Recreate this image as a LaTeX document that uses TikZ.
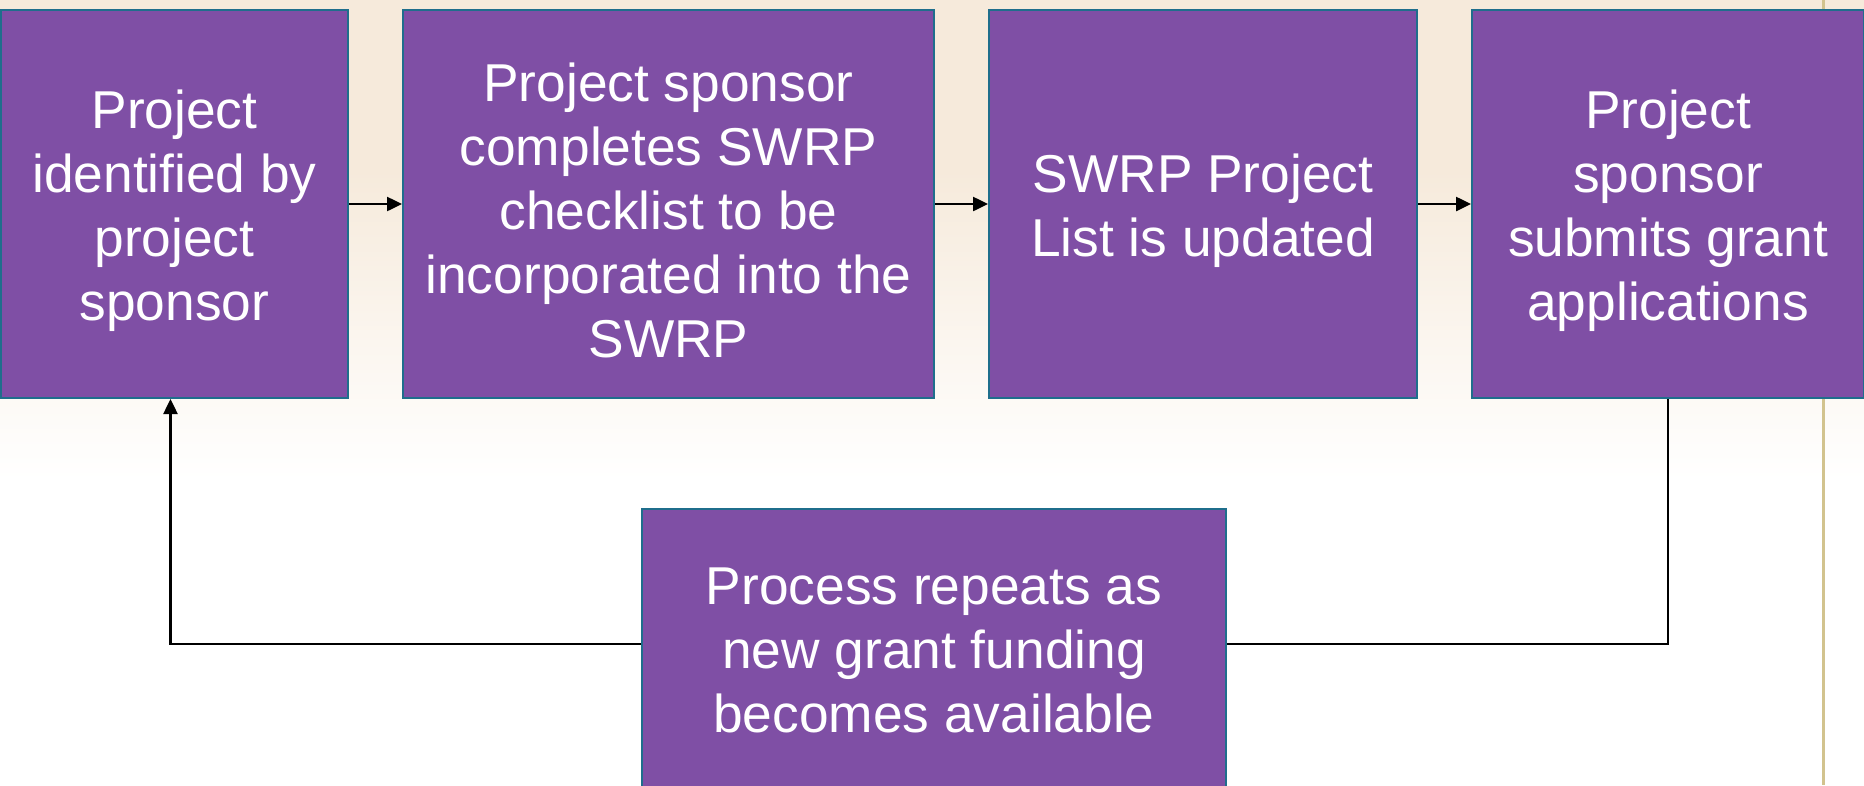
\documentclass[tikz,border=0pt]{standalone}
\usepackage{fontspec}
\setmainfont{Liberation Sans}
\usetikzlibrary{arrows.meta}
\definecolor{boxfill}{HTML}{7F4FA5}
\definecolor{boxedge}{HTML}{1F6E8C}
\definecolor{bgbeige}{HTML}{F6EADB}
\definecolor{goldline}{HTML}{D2C38E}
\tikzset{
  procbox/.style={draw=boxedge, line width=2pt, fill=boxfill, inner sep=0pt},
  boxtext/.style={text=white, align=center, inner sep=0pt,
    font=\fontsize{53.3}{64}\selectfont},
  conn/.style={draw=black, line width=2.5pt, -{Triangle[length=15pt,width=14pt]}},
  plainconn/.style={draw=black, line width=2.5pt}
}
\begin{document}
\begin{tikzpicture}[x=1pt,y=-1pt]
\useasboundingbox (0,0) rectangle (1864,785);
% background
\fill[white] (0,0) rectangle (1864,785);
\fill[bgbeige] (0,0) rectangle (1864,170);
\shade[top color=bgbeige, bottom color=white] (0,170) rectangle (1864,480);
\draw[goldline, line width=3pt] (1823,0) -- (1823,785);
% boxes
\node[procbox, minimum width=347pt, minimum height=388pt] (b1) at (174.5,204) {};
\node[procbox, minimum width=531pt, minimum height=388pt] (b2) at (668.5,204) {};
\node[procbox, minimum width=428pt, minimum height=388pt] (b3) at (1203,204) {};
\node[procbox, minimum width=392pt, minimum height=388pt] (b4) at (1668,204) {};
\node[procbox, minimum width=584pt, minimum height=282pt] (b5) at (934,650) {};
% texts
\node[boxtext] (t1) at ([yshift=-6.5pt]b1.center) {Project\\identified by\\project\\sponsor};
\node[boxtext] (t2) at ([yshift=-6.5pt]b2.center) {Project sponsor\\completes SWRP\\checklist to be\\incorporated into the\\SWRP};
\node[boxtext] (t3) at ([yshift=-6.5pt]b3.center) {SWRP Project\\List is updated};
\node[boxtext] (t4) at ([yshift=-6.5pt]b4.center) {Project\\sponsor\\submits grant\\applications};
\node[boxtext] (t5) at (b5.center) {Process repeats as\\new grant funding\\becomes available};
% connectors
\draw[conn] (b1) -- (b2);
\draw[conn] (b2) -- (b3);
\draw[conn] (b3) -- (b4);
\coordinate (fbR) at ([yshift=6pt]b5.east);
\coordinate (fbL) at ([yshift=6pt]b5.west);
\coordinate (fbUp) at ([xshift=-4pt]b1.south);
\draw[plainconn] (b4.south) |- (fbR);
\draw[conn] (fbL) -| (fbUp);
\end{tikzpicture}
\end{document}
